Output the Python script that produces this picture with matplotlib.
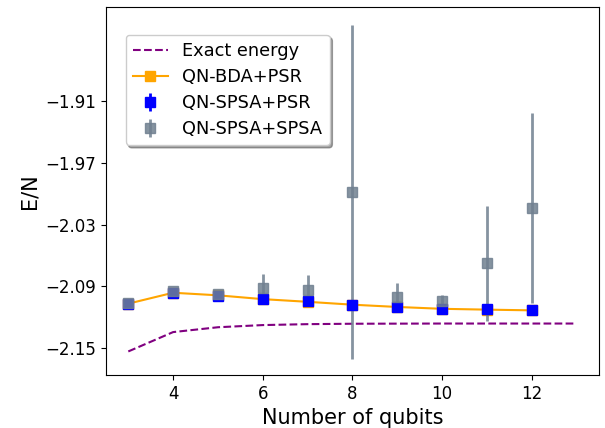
import matplotlib.pyplot as plt

# data
n_exact = [3, 4, 5, 6, 7, 8, 9, 10, 11, 12, 13]
e_exact = [-2.1532, -2.1344, -2.1297, -2.1276, -2.1267, -2.1263, -2.1262,
           -2.1261, -2.1261, -2.1261, -2.1261]

n_qubits = [3, 4, 5, 6, 7, 8, 9, 10, 11, 12]
e_bda = [-2.1068, -2.0962, -2.0987, -2.1024, -2.1050, -2.1078, -2.1100,
         -2.1118, -2.1126, -2.1133]
e_spsa_psr = [-2.1068, -2.0965, -2.0990, -2.1026, -2.1046, -2.1078, -2.1100,
              -2.1120, -2.1123, -2.1133]
err_spsa_psr = [0.001, 0.001, 0.001, 0.001, 0.001, 0.001, 0.001, 0.001, 0.001, 0.001]
e_spsa_spsa = [-2.1065, -2.0945, -2.0970, -2.0912, -2.0939, -1.9985, -2.1003,
               -2.1042, -2.0676, -2.0137]
err_spsa_spsa = [0.001, 0.002, 0.002, 0.0136, 0.015, 0.162, 0.014, 0.0055,
                 0.056, 0.092]

fig = plt.figure(figsize=(6.05, 4.28), dpi=100)
ax = fig.add_axes([0.175, 0.124, 0.815, 0.86])

ax.plot(n_exact, e_exact, '--', color='purple', lw=1.5, label='Exact energy')
ax.plot(n_qubits, e_bda, '-s', color='orange', lw=1.5, ms=7, label='QN-BDA+PSR')
ax.errorbar(n_qubits, e_spsa_psr, yerr=err_spsa_psr, fmt='s', color='blue',
            ms=7, elinewidth=2, label='QN-SPSA+PSR')
ax.errorbar(n_qubits, e_spsa_spsa, yerr=err_spsa_spsa, fmt='s', color='slategray',
            alpha=0.85, ms=7, elinewidth=2, label='QN-SPSA+SPSA')

ax.set_xlim(2.5, 13.5)
ax.set_ylim(-2.176, -1.8186)
ax.set_xticks([4, 6, 8, 10, 12])
ax.set_yticks([-1.91, -1.97, -2.03, -2.09, -2.15])
ax.tick_params(labelsize=12)
ax.set_xlabel('Number of qubits', fontsize=15)
ax.set_ylabel('E/N', fontsize=15)

ax.legend(loc='upper left', bbox_to_anchor=(0.04, 0.924), borderaxespad=0,
          fontsize=12.8, labelspacing=0.45, shadow=True)

plt.savefig('out.png', dpi=100)
